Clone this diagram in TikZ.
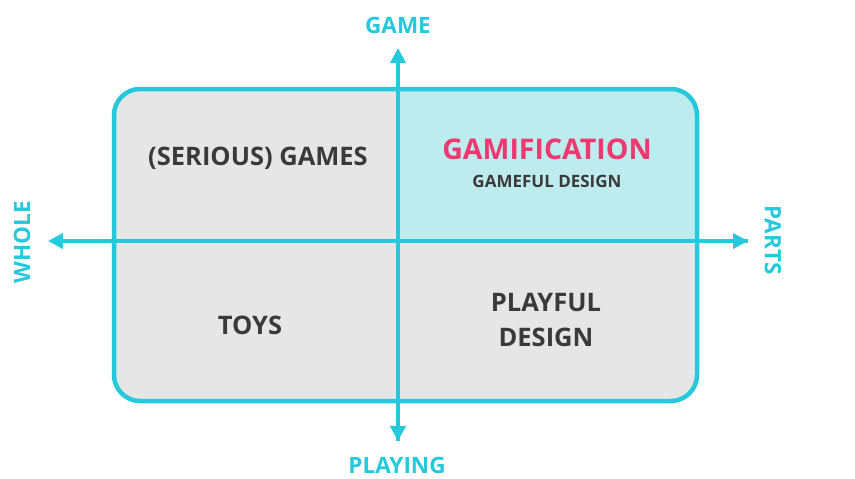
\documentclass[tikz,border=0pt]{standalone}
\usepackage{fontspec}
\setmainfont{Open Sans}
\usetikzlibrary{arrows.meta}
\definecolor{axiscyan}{RGB}{38,200,220}
\definecolor{quadgray}{RGB}{230,230,230}
\definecolor{quadcyan}{RGB}{190,235,238}
\definecolor{labelgray}{RGB}{58,58,58}
\definecolor{gamipink}{RGB}{240,56,112}
\tikzset{
  axis/.style={draw=axiscyan, line width=4.5pt, -{Triangle[length=15pt,width=15pt]}},
  axislabel/.style={text=axiscyan, font=\bfseries\fontsize{22.5}{22}\selectfont, inner sep=0pt},
  quadlabel/.style={text=labelgray, font=\bfseries\fontsize{25.5}{30}\selectfont, align=center, inner sep=0pt},
}
\begin{document}
\begin{tikzpicture}[x=1pt,y=-1pt]
  \useasboundingbox (0,0) rectangle (855,479);
  % quadrant fills
  \begin{scope}
    \clip[rounded corners=26pt] (114,89) rectangle (697,401);
    \fill[quadgray] (114,89) rectangle (697,401);
    \fill[quadcyan] (398,89) rectangle (697,241);
  \end{scope}
  \draw[axiscyan, line width=4.5pt, rounded corners=26pt] (114,89) rectangle (697,401);
  % axes
  \coordinate (top) at (398,48);
  \coordinate (bottom) at (398,441);
  \coordinate (left) at (48,241);
  \coordinate (right) at (748,241);
  \coordinate (vmid) at (398,241);
  \draw[axis] (bottom) -- (top);
  \draw[axis] (right) -- (left);
  \draw[axis] (vmid) -- (bottom);
  \draw[axis] (vmid) -- (right);
  % axis labels
  \node[axislabel] (game) at (398,25) {GAME};
  \node[axislabel] (playing) at (397,465) {PLAYING};
  \node[axislabel, rotate=90] (whole) at (22,242) {WHOLE};
  \node[axislabel, rotate=-90] (parts) at (773,240) {PARTS};
  % quadrant labels
  \node[quadlabel] (serious) at (258,158) {(SERIOUS) GAMES};
  \node[quadlabel, text=gamipink, font=\bfseries\fontsize{28.5}{30}\selectfont] (gami) at (547,149) {GAMIFICATION};
  \node[quadlabel, font=\bfseries\fontsize{17}{18}\selectfont] (gameful) at (547,181) {GAMEFUL DESIGN};
  \node[quadlabel] (toys) at (250,325) {TOYS};
  \node[quadlabel, font=\bfseries\fontsize{25.5}{35}\selectfont] (playful) at (546,320) {PLAYFUL\\DESIGN};
\end{tikzpicture}
\end{document}
